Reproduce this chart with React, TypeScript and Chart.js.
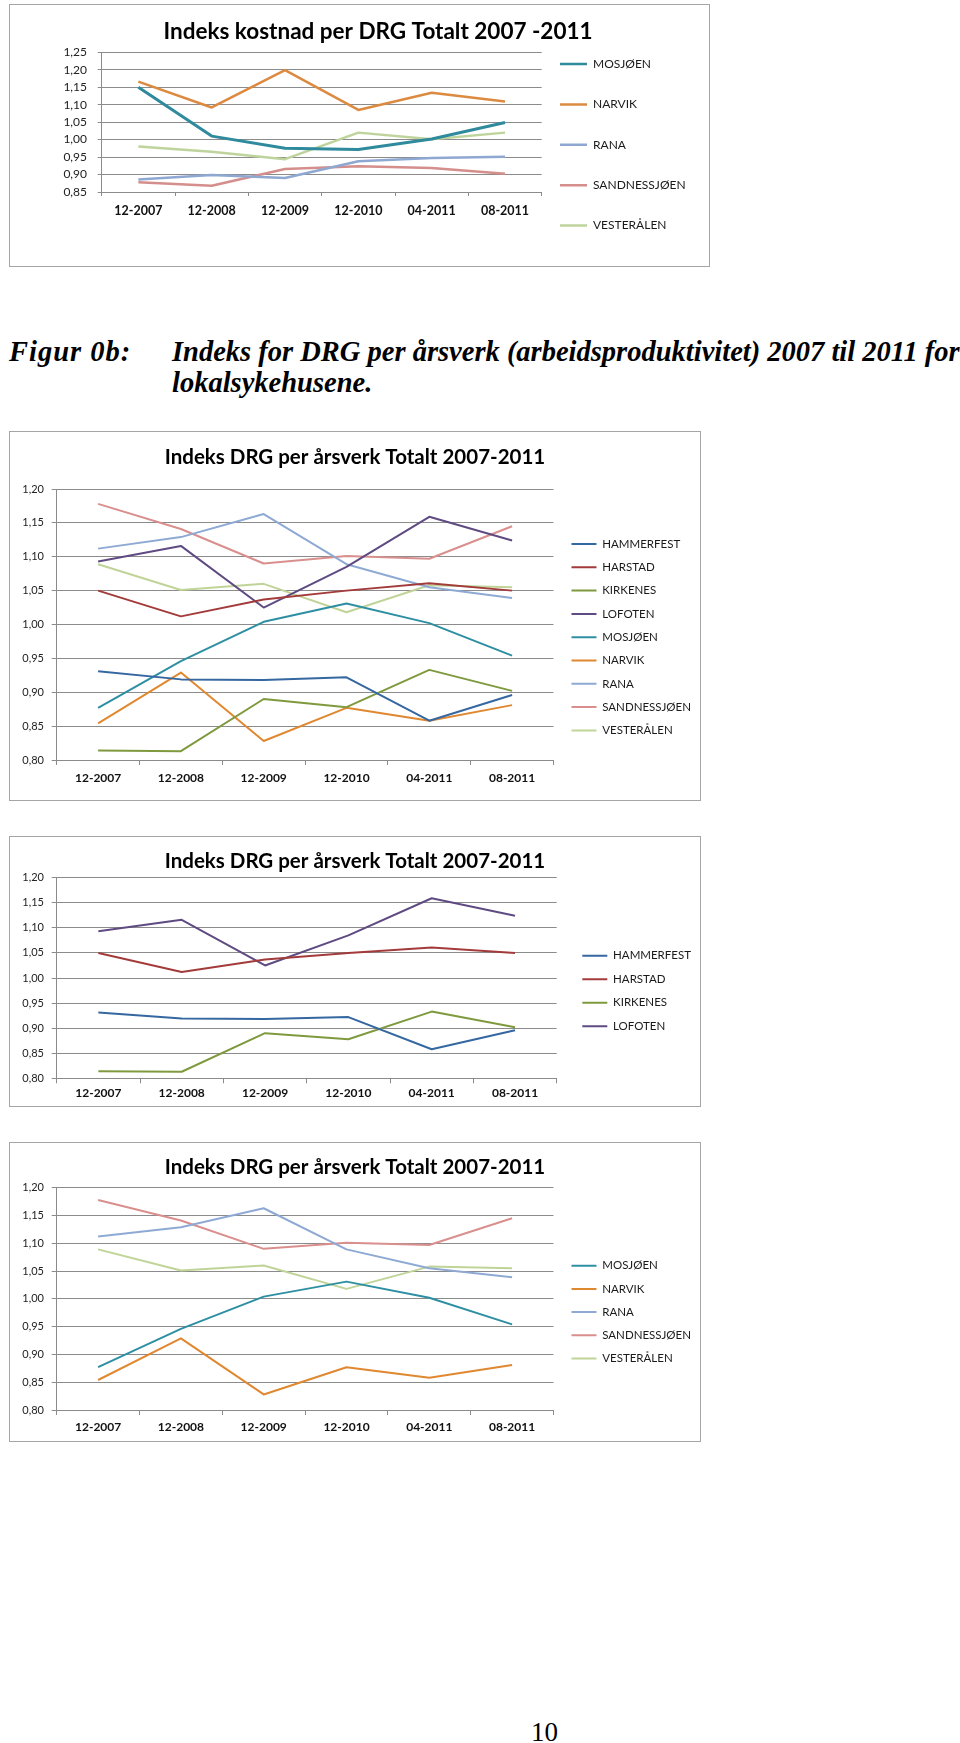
import React, { useEffect, useRef } from 'react';
import { Chart, registerables } from 'chart.js';

Chart.register(...registerables);

// ---------- data ----------
const categories = ['12-2007', '12-2008', '12-2009', '12-2010', '04-2011', '08-2011'];

// Chart 1: Indeks kostnad per DRG
const kostMosjoen = [1.15, 1.01, 0.975, 0.972, 1.002, 1.049];
const kostNarvik = [1.166, 1.092, 1.199, 1.085, 1.134, 1.109];
const kostRana = [0.886, 0.899, 0.89, 0.938, 0.947, 0.951];
const kostSandnessjoen = [0.878, 0.868, 0.916, 0.924, 0.919, 0.902];
const kostVesteralen = [0.98, 0.965, 0.944, 1.02, 1.001, 1.02];

// Charts 2-4: Indeks DRG per årsverk
const drgHammerfest = [0.931, 0.919, 0.918, 0.922, 0.858, 0.896];
const drgHarstad = [1.05, 1.012, 1.037, 1.05, 1.061, 1.05];
const drgKirkenes = [0.814, 0.813, 0.89, 0.878, 0.933, 0.902];
const drgLofoten = [1.093, 1.116, 1.025, 1.085, 1.159, 1.124];
const drgMosjoen = [0.877, 0.946, 1.004, 1.031, 1.002, 0.954];
const drgNarvik = [0.854, 0.929, 0.828, 0.877, 0.858, 0.881];
const drgRana = [1.112, 1.129, 1.163, 1.089, 1.055, 1.039];
const drgSandnessjoen = [1.178, 1.141, 1.09, 1.101, 1.097, 1.145];
const drgVesteralen = [1.089, 1.051, 1.06, 1.018, 1.058, 1.055];

const yRangeKost = [0.85, 1.25];
const yRangeDrg = [0.8, 1.2];
const yStep = 0.05;

// ---------- styles ----------
const GRID = '#8b8b8b';
const FONT = 'Lato';

type Series = { label: string; data: number[]; color: string; width: number };

const kostSeries: Series[] = [
  { label: 'MOSJØEN', data: kostMosjoen, color: '#2E8A9C', width: 3 },
  { label: 'NARVIK', data: kostNarvik, color: '#DC8A40', width: 2.5 },
  { label: 'RANA', data: kostRana, color: '#8FA8D2', width: 2.5 },
  { label: 'SANDNESSJØEN', data: kostSandnessjoen, color: '#D48E8C', width: 2.5 },
  { label: 'VESTERÅLEN', data: kostVesteralen, color: '#BFD49C', width: 2.5 },
];

const sHammerfest: Series = { label: 'HAMMERFEST', data: drgHammerfest, color: '#3567A0', width: 2 };
const sHarstad: Series = { label: 'HARSTAD', data: drgHarstad, color: '#A33B3B', width: 2 };
const sKirkenes: Series = { label: 'KIRKENES', data: drgKirkenes, color: '#7F9A3E', width: 2 };
const sLofoten: Series = { label: 'LOFOTEN', data: drgLofoten, color: '#5F4B82', width: 2 };
const sMosjoen: Series = { label: 'MOSJØEN', data: drgMosjoen, color: '#2E8FA3', width: 2 };
const sNarvik: Series = { label: 'NARVIK', data: drgNarvik, color: '#E08830', width: 2 };
const sRana: Series = { label: 'RANA', data: drgRana, color: '#8EAAD4', width: 2 };
const sSandnessjoen: Series = { label: 'SANDNESSJØEN', data: drgSandnessjoen, color: '#D88F8D', width: 2 };
const sVesteralen: Series = { label: 'VESTERÅLEN', data: drgVesteralen, color: '#C0D498', width: 2 };

type Layout = {
  left: number; top: number; w: number; h: number;
  titleSize: number; titleX: number; titleY: number;
  plotLeft: number; plotRight: number; plotTop: number; plotBottom: number;
  yFont: number; yTick: number; yPad: number;
  xFont: number; xTick: number; xPad: number;
  legendX: number; legendY: number; pitch: number; legendFont: number;
  boxWidth: number; boxHeight: number;
};

type Cfg = { id: string; title: string; series: Series[]; yRange: number[]; layout: Layout };

const charts: Cfg[] = [
  {
    id: 'kost',
    title: 'Indeks kostnad per DRG Totalt 2007 -2011',
    series: kostSeries,
    yRange: yRangeKost,
    layout: {
      left: 9, top: 4, w: 701, h: 263,
      titleSize: 22.5, titleX: 374, titleY: 28,
      plotLeft: 92.7, plotRight: 532.7, plotTop: 48.3, plotBottom: 188,
      yFont: 12, yTick: 4, yPad: 10.7,
      xFont: 12.5, xTick: 4, xPad: 7.5,
      legendX: 551, legendY: 60, pitch: 40.4, legendFont: 12,
      boxWidth: 27, boxHeight: 2.5,
    },
  },
  {
    id: 'drgAll',
    title: 'Indeks DRG per årsverk Totalt 2007-2011',
    series: [sHammerfest, sHarstad, sKirkenes, sLofoten, sMosjoen, sNarvik, sRana, sSandnessjoen, sVesteralen],
    yRange: yRangeDrg,
    layout: {
      left: 9, top: 431, w: 692, h: 370,
      titleSize: 20.5, titleX: 345, titleY: 26,
      plotLeft: 47.7, plotRight: 547.7, plotTop: 58, plotBottom: 329,
      yFont: 11, yTick: 5, yPad: 7.7,
      xFont: 12, xTick: 5, xPad: 5.8,
      legendX: 566, legendY: 113, pitch: 23.3, legendFont: 11.5,
      boxWidth: 25, boxHeight: 2,
    },
  },
  {
    id: 'drgA',
    title: 'Indeks DRG per årsverk Totalt 2007-2011',
    series: [sHammerfest, sHarstad, sKirkenes, sLofoten],
    yRange: yRangeDrg,
    layout: {
      left: 9, top: 836, w: 692, h: 271,
      titleSize: 20.5, titleX: 345, titleY: 25,
      plotLeft: 47.7, plotRight: 547.7, plotTop: 41.7, plotBottom: 242.3,
      yFont: 11, yTick: 5, yPad: 7.7,
      xFont: 12, xTick: 5, xPad: 2.8,
      legendX: 575, legendY: 119.7, pitch: 23.5, legendFont: 11.5,
      boxWidth: 25, boxHeight: 2,
    },
  },
  {
    id: 'drgB',
    title: 'Indeks DRG per årsverk Totalt 2007-2011',
    series: [sMosjoen, sNarvik, sRana, sSandnessjoen, sVesteralen],
    yRange: yRangeDrg,
    layout: {
      left: 9, top: 1142, w: 692, h: 300,
      titleSize: 20.5, titleX: 345, titleY: 25,
      plotLeft: 47.7, plotRight: 547.7, plotTop: 45.7, plotBottom: 268,
      yFont: 11, yTick: 5, yPad: 7.7,
      xFont: 12, xTick: 5, xPad: 4.5,
      legendX: 568, legendY: 123.7, pitch: 23.2, legendFont: 11.5,
      boxWidth: 25, boxHeight: 2,
    },
  },
];

const fmt = (v: number) => Number(v).toFixed(2).replace('.', ',');

function ChartBox({ cfg }: { cfg: Cfg }) {
  const ref = useRef<HTMLCanvasElement>(null);

  useEffect(() => {
    const canvas = ref.current;
    if (!canvas) return;
    const L = cfg.layout;
    const W = L.w;
    const H = L.h;

    const mctx = document.createElement('canvas').getContext('2d')!;
    mctx.font = `normal ${L.legendFont}px ${FONT}`;
    const textW = Math.max(...cfg.series.map((s) => mctx.measureText(s.label).width));
    mctx.font = `normal ${L.yFont}px ${FONT}`;
    const yLabelW = Math.max(mctx.measureText(fmt(cfg.yRange[0])).width, mctx.measureText(fmt(cfg.yRange[1])).width);

    const colW = L.boxWidth + L.legendFont / 2 + textW;
    const gap = L.legendX - L.plotRight;
    const p = Math.min(gap, 18);
    const padR = Math.max(0, W - colW - 10 - L.legendX);
    const legendLeft = W - padR - p - colW - 10;
    const dummyW = Math.max(0, legendLeft - L.plotRight);
    const lh = Math.max(1, L.pitch - p);
    const maxPadL = Math.max(0, L.plotLeft - L.yTick - L.yPad - yLabelW - 3);
    const padL = Math.min(maxPadL, Math.max(0, 2 * L.titleX - W + padR));
    const yW = Math.max(0, L.plotLeft - padL);
    const n = cfg.series.length;
    const y0 = L.legendY - L.legendFont / 2;
    const T = 2 * y0 - p - H + n * L.pitch;

    const chart = new Chart(canvas, {
      type: 'line',
      data: {
        labels: categories,
        datasets: cfg.series.map((s) => ({
          label: s.label,
          data: s.data,
          borderColor: s.color,
          backgroundColor: s.color,
          borderWidth: s.width,
          pointRadius: 0,
          pointHoverRadius: 0,
          tension: 0,
          fill: false,
          borderJoinStyle: 'round' as const,
          yAxisID: 'y',
        })),
      },
      options: {
        animation: false,
        responsive: false,
        maintainAspectRatio: false,
        events: [],
        layout: { padding: { left: padL, right: padR, top: 0, bottom: 0 } },
        plugins: {
          title: {
            display: true,
            text: cfg.title,
            color: '#000',
            font: { family: FONT, size: L.titleSize, weight: 'bold', lineHeight: 1.2 },
            padding: {
              top: L.titleY - 0.6 * L.titleSize,
              bottom: L.plotTop - L.titleY - 0.6 * L.titleSize,
            },
          },
          legend: {
            position: 'right',
            align: 'center',
            maxWidth: 1000,
            title: {
              display: T >= 1,
              text: ' ',
              font: { size: 1, lineHeight: 1 },
              padding: { top: Math.max(0, T - 1), bottom: 0 },
            },
            labels: {
              boxWidth: L.boxWidth,
              boxHeight: L.boxHeight,
              padding: p,
              color: '#1a1a1a',
              font: { family: FONT, size: L.legendFont, lineHeight: `${lh.toFixed(2)}px` },
              generateLabels: (ch: any) =>
                (Chart.defaults.plugins.legend.labels.generateLabels as any)(ch).map((it: any) => ({
                  ...it,
                  text: [it.text],
                  fillStyle: it.strokeStyle,
                  lineWidth: 0,
                })),
            },
          },
          tooltip: { enabled: false },
        },
        scales: {
          x: {
            type: 'category',
            offset: true,
            grid: {
              display: true,
              drawOnChartArea: false,
              drawTicks: true,
              tickLength: L.xTick,
              offset: true,
              color: GRID,
            },
            border: { display: true, color: GRID },
            ticks: {
              padding: L.xPad,
              color: '#111',
              font: { family: FONT, size: L.xFont, weight: 'bold' },
              maxRotation: 0,
              autoSkip: false,
            },
            afterFit: (s: any) => {
              s.height = H - L.plotBottom;
            },
          },
          y: {
            type: 'linear',
            position: 'left',
            min: cfg.yRange[0],
            max: cfg.yRange[1],
            ticks: {
              stepSize: yStep,
              padding: L.yPad,
              color: '#222',
              font: { family: FONT, size: L.yFont },
              callback: (v: any) => fmt(v),
            },
            grid: { color: GRID, tickLength: L.yTick, drawTicks: true },
            border: { display: true, color: GRID },
            afterFit: (s: any) => {
              s.width = yW;
            },
          },
          yR: {
            type: 'linear',
            position: 'right',
            display: dummyW > 0.5,
            grid: { display: false },
            border: { display: false },
            ticks: { display: false },
            afterFit: (s: any) => {
              s.width = dummyW;
            },
          },
        },
      } as any,
    });
    return () => chart.destroy();
  }, [cfg]);

  const L = cfg.layout;
  return (
    <div
      style={{
        position: 'absolute',
        left: L.left,
        top: L.top,
        width: L.w,
        height: L.h,
        boxSizing: 'border-box',
        border: '1px solid #a5a5a5',
        background: '#fff',
      }}
    >
      <canvas
        ref={ref}
        width={L.w}
        height={L.h}
        style={{ position: 'absolute', left: -1, top: -1, width: L.w, height: L.h }}
      />
    </div>
  );
}

const captionStyle: React.CSSProperties = {
  position: 'absolute',
  fontFamily: '"Liberation Serif", "Times New Roman", serif',
  fontStyle: 'italic',
  fontWeight: 'bold',
  fontSize: 28.5,
  lineHeight: '31px',
  color: '#000',
  whiteSpace: 'nowrap',
};

export default function App() {
  return (
    <div
      style={{
        position: 'absolute',
        left: 0,
        top: 0,
        width: 960,
        height: 1743,
        background: '#fff',
        overflow: 'hidden',
      }}
    >
      {charts.map((c) => (
        <ChartBox key={c.id} cfg={c} />
      ))}
      <div style={{ ...captionStyle, left: 9, top: 336, letterSpacing: 1 }}>Figur 0b:</div>
      <div style={{ ...captionStyle, left: 172, top: 336 }}>
        Indeks for DRG per årsverk (arbeidsproduktivitet) 2007 til 2011 for
      </div>
      <div style={{ ...captionStyle, left: 172, top: 367 }}>lokalsykehusene.</div>
      <div
        style={{
          position: 'absolute',
          left: 531,
          top: 1717,
          fontFamily: '"Liberation Serif", "Times New Roman", serif',
          fontSize: 27,
          lineHeight: '30px',
          color: '#000',
        }}
      >
        10
      </div>
    </div>
  );
}
